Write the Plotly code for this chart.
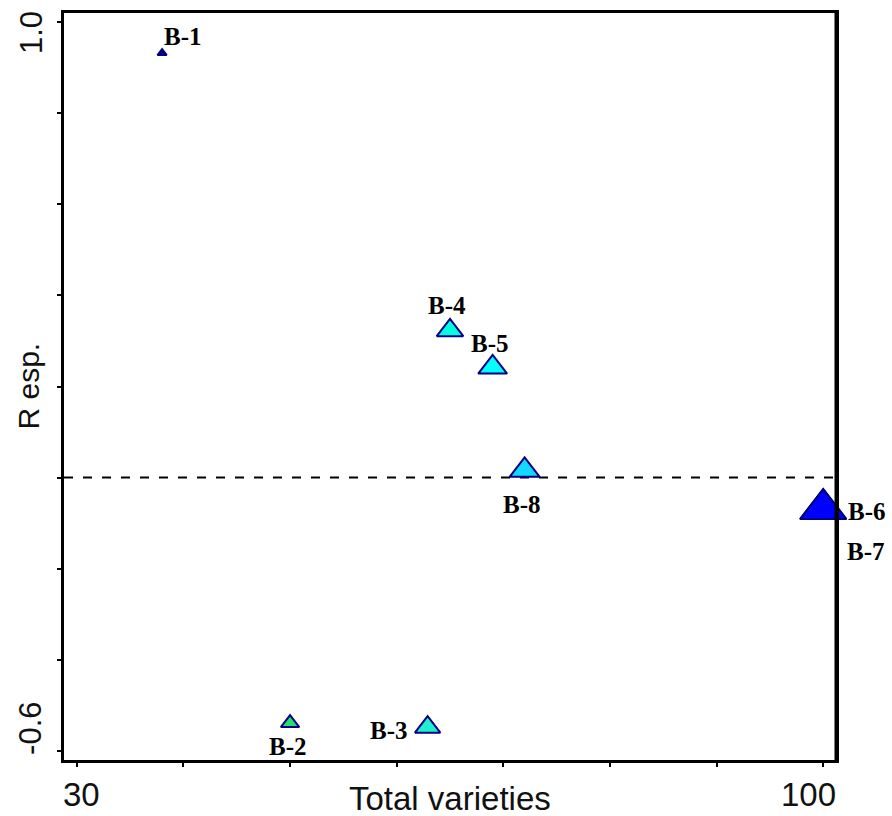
import plotly.graph_objects as go

# ---- data ----
names = ["B-1", "B-2", "B-3", "B-4", "B-5", "B-6", "B-7", "B-8"]
total_varieties = [38.0, 50.0, 62.9, 65.0, 69.0, 100.0, 100.0, 72.0]
resp = [0.932, -0.539, -0.548, 0.323, 0.242, -0.069, -0.069, 0.016]
bubble_size = [8, 16, 22, 23, 25, 40, 40, 26]
point_colors = ["#000080", "#20e070", "#20f0d0", "#00ffe0", "#00ffff",
                "#0000ff", "#0000ff", "#10d8ff"]

x_tick_vals = [30, 40, 50, 60, 70, 80, 90, 100]
x_tick_labels = {30: "30", 100: "100"}
y_tick_vals = [-0.6, -0.4, -0.2, 0.0, 0.2, 0.4, 0.6, 0.8, 1.0]
y_tick_labels = {1.0: "1.0", -0.6: "-0.6"}
reference_line = 0.0

x_title = "Total varieties"
y_title = "R esp."

# label offsets in pixels (dx right, dy down) – styling only
label_offsets = {
    "B-1": (21, -17), "B-2": (-2, 23), "B-3": (-39, 3), "B-4": (-3, -25),
    "B-5": (-3, -24), "B-6": (44, 2), "B-7": (43, 42), "B-8": (-3, 34),
}

fig = go.Figure()
fig.add_trace(go.Scatter(
    x=total_varieties, y=resp, mode="markers",
    marker=dict(symbol="triangle-up", size=bubble_size, color=point_colors,
                line=dict(color="#000080", width=2), opacity=1),
    cliponaxis=False, hoverinfo="text", text=names, showlegend=False,
))

fig.add_shape(type="line", xref="paper", x0=0, x1=1, yref="y",
              y0=reference_line, y1=reference_line,
              line=dict(color="black", width=2, dash="9px,10px"), layer="below")
# right frame edge drawn over the markers, as in the reference
fig.add_shape(type="line", xref="paper", x0=1, x1=1, yref="paper", y0=0, y1=1,
              line=dict(color="black", width=3), layer="above")

annotations = []
label_font = dict(family="Liberation Serif", size=25, color="black")
for n, xv, yv in zip(names, total_varieties, resp):
    dx, dy = label_offsets[n]
    annotations.append(dict(x=xv, y=yv, xref="x", yref="y", text="<b>%s</b>" % n,
                            showarrow=False, xanchor="center", yanchor="middle",
                            xshift=dx, yshift=-dy, font=label_font))

tick_font = dict(family="Liberation Sans", size=33, color="#111")
x_shift = {30: 5, 100: -15}
for v, t in x_tick_labels.items():
    annotations.append(dict(x=v, y=0, xref="x", yref="paper", text=t, showarrow=False,
                            xanchor="center", yanchor="middle", xshift=x_shift[v],
                            yshift=-34, font=tick_font))
y_shift = {1.0: -11, -0.6: 22}
for v, t in y_tick_labels.items():
    annotations.append(dict(x=0, y=v, xref="paper", yref="y", text=t, showarrow=False,
                            textangle=-90, xanchor="center", yanchor="middle",
                            xshift=-33, yshift=y_shift[v],
                            font=dict(family="Liberation Sans", size=31, color="#111")))

annotations.append(dict(x=0.5, y=0, xref="paper", yref="paper", text=x_title,
                        showarrow=False, xanchor="center", yanchor="middle",
                        yshift=-38, font=tick_font))
annotations.append(dict(x=0, y=0.5, xref="paper", yref="paper", text=y_title,
                        showarrow=False, textangle=-90, xanchor="center",
                        yanchor="middle", xshift=-36,
                        font=dict(family="Liberation Sans", size=30, color="#111")))

axis_common = dict(showgrid=False, zeroline=False, showline=True, linecolor="black",
                   linewidth=3, mirror=True, ticks="outside", ticklen=4,
                   tickwidth=2, tickcolor="black", showticklabels=False)

fig.update_layout(
    width=892, height=816,
    margin=dict(l=64, r=56, t=10, b=56),
    plot_bgcolor="white", paper_bgcolor="white",
    xaxis=dict(range=[28.8, 101.2], tickvals=x_tick_vals, **axis_common),
    yaxis=dict(range=[-0.62, 1.02], tickvals=y_tick_vals, **axis_common),
    annotations=annotations,
)

fig.write_html("out.html", config={"displayModeBar": False},
               post_script="document.body.style.margin='0px';document.body.style.overflow='hidden';")
